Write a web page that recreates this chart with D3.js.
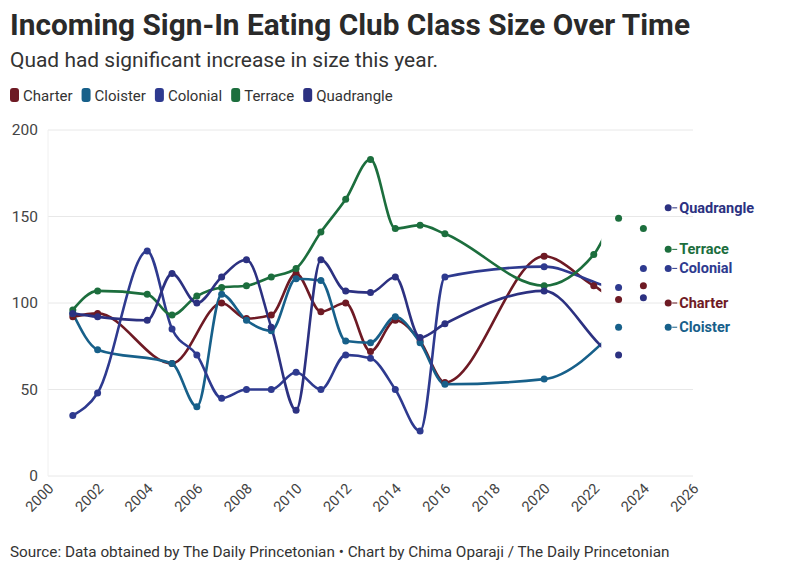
<!DOCTYPE html>
<html>
<head>
<meta charset="utf-8">
<script src="https://cdn.jsdelivr.net/npm/d3@7"></script>
<style>
  body { margin: 0; background: #fff; }
  svg { display: block; font-family: Roboto, "Noto Sans", sans-serif; }
</style>
</head>
<body>
<div id="chart"></div>
<script>
// Data (null = no value that year)
const years = [2001, 2002, 2003, 2004, 2005, 2006, 2007, 2008, 2009, 2010, 2011, 2012, 2013,
               2014, 2015, 2016, 2017, 2018, 2019, 2020, 2021, 2022, 2023, 2024, 2025];

const charter    = [92, 94, null, null, 65, null, 100, 91, 93, 117, 95, 100, 72, 90, 78, 54, null, null, null, 127, null, 110, 102, 110, 100];
const cloister   = [94, 73, null, null, 65, 40, 105, 90, 84, 114, 113, 78, 77, 92, 77, 53, null, null, null, 56, null, null, 86, null, 86];
const colonial   = [35, 48, null, 130, 85, 70, 45, 50, 50, 60, 50, 70, 68, 50, 26, 115, null, null, null, 121, null, null, 109, 120, 120];
const terrace    = [96, 107, null, 105, 93, 104, 109, 110, 115, 120, 141, 160, 183, 143, 145, 140, null, null, null, 110, null, 128, 149, 143, 131];
const quadrangle = [94, 92, null, 90, 117, 100, 115, 125, 86, 38, 125, 107, 106, 115, 80, 88, null, null, null, 107, null, null, 70, 103, 155];

const seriesNames  = ["Charter", "Cloister", "Colonial", "Terrace", "Quadrangle"];
const seriesValues = [charter, cloister, colonial, terrace, quadrangle];
const seriesColors = ["#6e1a24", "#17608a", "#2e3a8f", "#1c6e3d", "#2c3181"];

const xTicks = [2000, 2002, 2004, 2006, 2008, 2010, 2012, 2014, 2016, 2018, 2020, 2022, 2024, 2026];
const yTicks = [0, 50, 100, 150, 200];

const lineEndYear = 2022.3;   // lines stop a little past 2022 in the original
const labelYear = 2025;

const width = 795, height = 571;

const svg = d3.select("#chart").append("svg")
    .attr("width", width)
    .attr("height", height);

const x = d3.scaleLinear().domain([2000, 2026]).range([48, 693]);
const y = d3.scaleLinear().domain([0, 200]).range([476, 130]);

// squeeze text to the width it has in the original
function fit(sel, target) {
    const w = sel.node().getComputedTextLength();
    if (w > target) sel.attr("textLength", target).attr("lengthAdjust", "spacingAndGlyphs");
}

// Header
const title = svg.append("text")
    .attr("x", 10).attr("y", 35)
    .attr("font-size", 30).attr("font-weight", 700)
    .attr("fill", "#2a2a2a")
    .text("Incoming Sign-In Eating Club Class Size Over Time");
fit(title, 680);

const subtitle = svg.append("text")
    .attr("x", 10).attr("y", 67)
    .attr("font-size", 21)
    .attr("fill", "#333")
    .text("Quad had significant increase in size this year.");
fit(subtitle, 428);

// Legend
let lx = 10;
seriesNames.forEach((name, i) => {
    svg.append("rect")
        .attr("x", lx).attr("y", 88)
        .attr("width", 9).attr("height", 14)
        .attr("rx", 3)
        .attr("fill", seriesColors[i]);
    const t = svg.append("text")
        .attr("x", lx + 13).attr("y", 100.5)
        .attr("font-size", 15)
        .attr("fill", "#333")
        .text(name);
    lx += 13 + t.node().getComputedTextLength() + 9;
});

// Grid
svg.append("g")
    .selectAll("line")
    .data(yTicks)
    .join("line")
    .attr("x1", x(2000)).attr("x2", x(2026))
    .attr("y1", d => y(d)).attr("y2", d => y(d))
    .attr("stroke", "#e8e8e8")
    .attr("stroke-width", 1);

svg.append("line")
    .attr("x1", x(2000)).attr("x2", x(2000))
    .attr("y1", y(200)).attr("y2", y(0))
    .attr("stroke", "#f0f0f0");

// Y axis labels
svg.append("g")
    .selectAll("text")
    .data(yTicks)
    .join("text")
    .attr("x", 38)
    .attr("y", d => y(d))
    .attr("dy", "0.35em")
    .attr("text-anchor", "end")
    .attr("font-size", 15.5)
    .attr("fill", "#444")
    .text(d => d);

// X axis labels, rotated
svg.append("g")
    .selectAll("text")
    .data(xTicks)
    .join("text")
    .attr("transform", d => `translate(${x(d) + 3},${486}) rotate(-45)`)
    .attr("text-anchor", "end")
    .attr("dy", "0.35em")
    .attr("font-size", 14.5)
    .attr("fill", "#444")
    .text(d => d);

// Clip lines
svg.append("clipPath").attr("id", "lineclip")
    .append("rect")
    .attr("x", 0).attr("y", 0)
    .attr("width", x(lineEndYear)).attr("height", height);

const line = d3.line()
    .x(d => x(d.year))
    .y(d => y(d.value))
    .curve(d3.curveMonotoneX);

const series = seriesNames.map((name, i) => ({
    name,
    color: seriesColors[i],
    points: years.map((yr, j) => ({year: yr, value: seriesValues[i][j]}))
                 .filter(d => d.value != null)
}));

series.forEach(s => {
    svg.append("path")
        .datum(s.points.filter(d => d.year < labelYear))
        .attr("clip-path", "url(#lineclip)")
        .attr("fill", "none")
        .attr("stroke", s.color)
        .attr("stroke-width", 2.6)
        .attr("stroke-linejoin", "round")
        .attr("d", line);
});

series.forEach(s => {
    svg.append("g")
        .selectAll("circle")
        .data(s.points)
        .join("circle")
        .attr("cx", d => x(d.year))
        .attr("cy", d => y(d.value))
        .attr("r", 3.5)
        .attr("fill", s.color);
});

// Direct labels at the last value
series.forEach(s => {
    const last = s.points.find(d => d.year === labelYear);
    svg.append("line")
        .attr("x1", x(last.year) + 4).attr("x2", x(last.year) + 9)
        .attr("y1", y(last.value)).attr("y2", y(last.value))
        .attr("stroke", s.color)
        .attr("stroke-width", 1);
    svg.append("text")
        .attr("x", x(last.year) + 11)
        .attr("y", y(last.value))
        .attr("dy", "0.35em")
        .attr("font-size", 14.5)
        .attr("font-weight", 700)
        .attr("fill", s.color)
        .text(s.name);
});

// Footer
const source = svg.append("text")
    .attr("x", 10).attr("y", 557)
    .attr("font-size", 15.3)
    .attr("fill", "#333")
    .text("Source: Data obtained by The Daily Princetonian \u2022 Chart by Chima Oparaji / The Daily Princetonian");
fit(source, 660);
</script>
</body>
</html>
